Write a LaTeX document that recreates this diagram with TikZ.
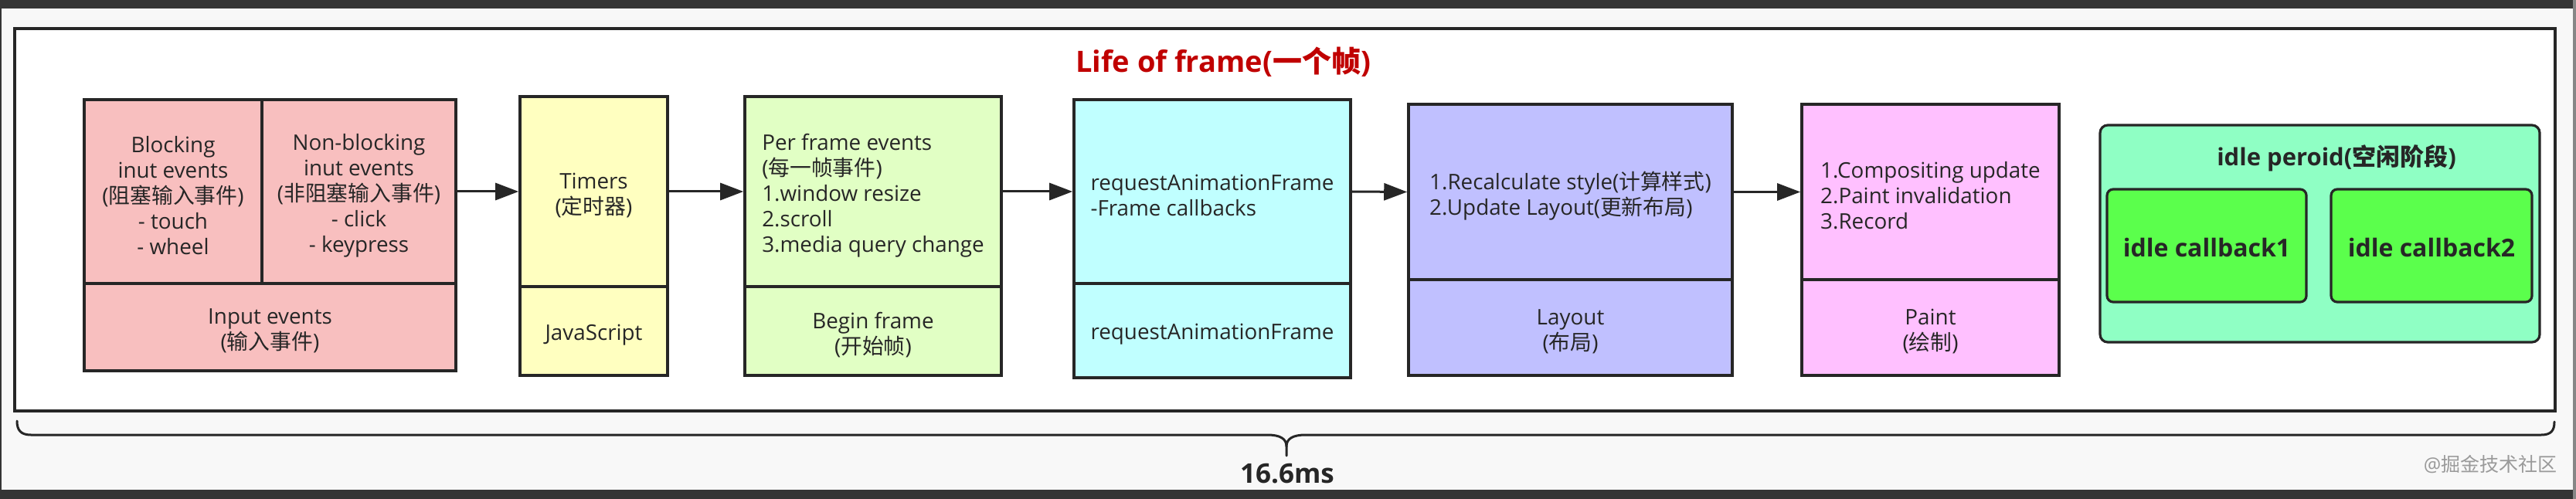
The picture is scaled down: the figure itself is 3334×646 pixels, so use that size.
\documentclass[tikz,border=0pt]{standalone}
\usepackage{fontspec}
\setmainfont{Open Sans}
\newfontfamily\cjk{Noto Sans CJK SC}
\usetikzlibrary{arrows.meta,fit}
\definecolor{ink}{HTML}{262626}
\definecolor{darkband}{HTML}{353535}
\definecolor{pagebg}{HTML}{F8F8F8}
\definecolor{cPink}{HTML}{F8BFBF}
\definecolor{cYellow}{HTML}{FFFFC0}
\definecolor{cLgreen}{HTML}{E1FFC4}
\definecolor{cCyan}{HTML}{C0FFFF}
\definecolor{cLav}{HTML}{C0C0FF}
\definecolor{cMag}{HTML}{FFC0FF}
\definecolor{cMint}{HTML}{8FFFC4}
\definecolor{cGreen}{HTML}{5BFF4C}
\definecolor{cTitle}{HTML}{C00000}
\definecolor{cMark}{HTML}{9A9A9A}
\tikzset{
  part/.style={draw=ink, line width=1.8pt, inner sep=0pt},
  ptext/.style={inner sep=0pt, text=ink, align=center, yshift=-2.5pt,
    font=\fontsize{13.9}{16.5}\selectfont},
  lefttext/.style={ptext, align=left},
  rbox/.style={draw=ink, line width=1.6pt, inner sep=0pt, rounded corners=4pt},
  cbtext/.style={inner sep=0pt, text=ink, yshift=-1.5pt, font=\fontsize{16}{19}\selectfont\bfseries},
  arr/.style={draw=ink, line width=1.5pt, -{Triangle[length=15pt,width=11pt]}},
  bracepath/.style={draw=ink, line width=1.5pt, line cap=round, line join=round},
}
\begin{document}
\begin{tikzpicture}[x=0.5pt,y=-0.5pt]
\useasboundingbox (0,0) rectangle (3334,646);
% screenshot background
\fill[pagebg] (0,0) rectangle (3334,646);
\fill[darkband] (0,0) rectangle (3334,11);
\fill[darkband] (0,634) rectangle (3334,646);
\fill[darkband] (0,0) rectangle (1.5,646);
\fill[darkband!60] (3330,0) rectangle (3334,646);
% outer frame
\node[draw=ink, fill=white, line width=2pt, inner sep=0pt, fit={(18.5,37) (3307,531.5)}] (frame) {};
% title
\node[text=cTitle, font=\fontsize{19}{22}\selectfont\bfseries] (title) at (1583,80) {Life of frame({\cjk 一个帧})};
% input events
\node[part, fill=cPink, fit={(109,129) (339,367)}] (inA) {};
\node[part, fill=cPink, fit={(339,129) (590,367)}] (inB) {};
\node[part, fill=cPink, fit={(109,367) (590,480)}] (inC) {};
\node[ptext] (inAx) at (inA.center) {Blocking\\inut events\\({\cjk 阻塞输入事件})\\- touch\\- wheel};
\node[ptext] (inBx) at (inB.center) {Non-blocking\\inut events\\({\cjk 非阻塞输入事件})\\- click\\- keypress};
\node[ptext] (inCx) at (inC.center) {Input events\\({\cjk 输入事件})};
% timers
\node[part, fill=cYellow, fit={(673,125) (864,371)}] (tmT) {};
\node[part, fill=cYellow, fit={(673,371) (864,486)}] (tmB) {};
\node[ptext] (tmTx) at (tmT.center) {Timers\\({\cjk 定时器})};
\node[ptext] (tmBx) at (tmB.center) {JavaScript};
% per frame
\node[part, fill=cLgreen, fit={(964,125) (1296,371)}] (pfT) {};
\node[part, fill=cLgreen, fit={(964,371) (1296,486)}] (pfB) {};
\node[lefttext] (pfTx) at (pfT.center) {Per frame events\\({\cjk 每一帧事件})\\1.window resize\\2.scroll\\3.media query change};
\node[ptext] (pfBx) at (pfB.center) {Begin frame\\({\cjk 开始帧})};
% rAF
\node[part, fill=cCyan, fit={(1390,129) (1748,367)}] (raT) {};
\node[part, fill=cCyan, fit={(1390,367) (1748,489)}] (raB) {};
\node[lefttext] (raTx) at (raT.center) {requestAnimationFrame\\-Frame callbacks};
\node[ptext] (raBx) at (raB.center) {requestAnimationFrame};
% layout
\node[part, fill=cLav, fit={(1823,135) (2242,362)}] (lyT) {};
\node[part, fill=cLav, fit={(1823,362) (2242,486)}] (lyB) {};
\node[lefttext] (lyTx) at (lyT.center) {1.Recalculate style({\cjk 计算样式})\\2.Update Layout({\cjk 更新布局})};
\node[ptext] (lyBx) at (lyB.center) {Layout\\({\cjk 布局})};
% paint
\node[part, fill=cMag, fit={(2332,135) (2665,362)}] (ptT) {};
\node[part, fill=cMag, fit={(2332,362) (2665,486)}] (ptB) {};
\node[lefttext] (ptTx) at (ptT.center) {1.Compositing update\\2.Paint invalidation\\3.Record};
\node[ptext] (ptBx) at (ptB.center) {Paint\\({\cjk 绘制})};
% idle period
\node[rbox, fill=cMint, rounded corners=5pt, fit={(2718,162) (3287,443)}] (idle) {};
\node[text=ink, font=\fontsize{15.5}{18}\selectfont\bfseries] (idleT) at (3024,205) {idle peroid({\cjk 空闲阶段})};
\node[rbox, fill=cGreen, fit={(2727,245) (2985,391)}] (cb1) {};
\node[rbox, fill=cGreen, fit={(3017,245) (3277,391)}] (cb2) {};
\node[cbtext] (cb1x) at (cb1.center) {idle callback1};
\node[cbtext] (cb2x) at (cb2.center) {idle callback2};
% arrows
\draw[arr] (inB.east) -- (tmT.west);
\draw[arr] (tmT.east) -- (pfT.west);
\draw[arr] (pfT.east) -- (raT.west);
\draw[arr] (raT.east) -- (lyT.west);
\draw[arr] (lyT.east) -- (ptT.west);
% brace
\draw[bracepath] (22,545) .. controls (22,557) and (27,563) .. (40,563) -- (1640,563)
  .. controls (1657,563) and (1665,568) .. (1665,578) -- (1665,590);
\draw[bracepath] (1665,578) .. controls (1665,568) and (1673,563) .. (1690,563) -- (3289,563)
  .. controls (3302,563) and (3306,557) .. (3306,546);
\node[text=ink, font=\fontsize{17.5}{20}\selectfont\bfseries] (dur) at (1666,613) {16.6ms};
% watermark
\node[text=cMark, font=\fontsize{12.5}{15}\selectfont] (mark) at (3223,601) {@{\cjk 掘金技术社区}};
\end{tikzpicture}
\end{document}
